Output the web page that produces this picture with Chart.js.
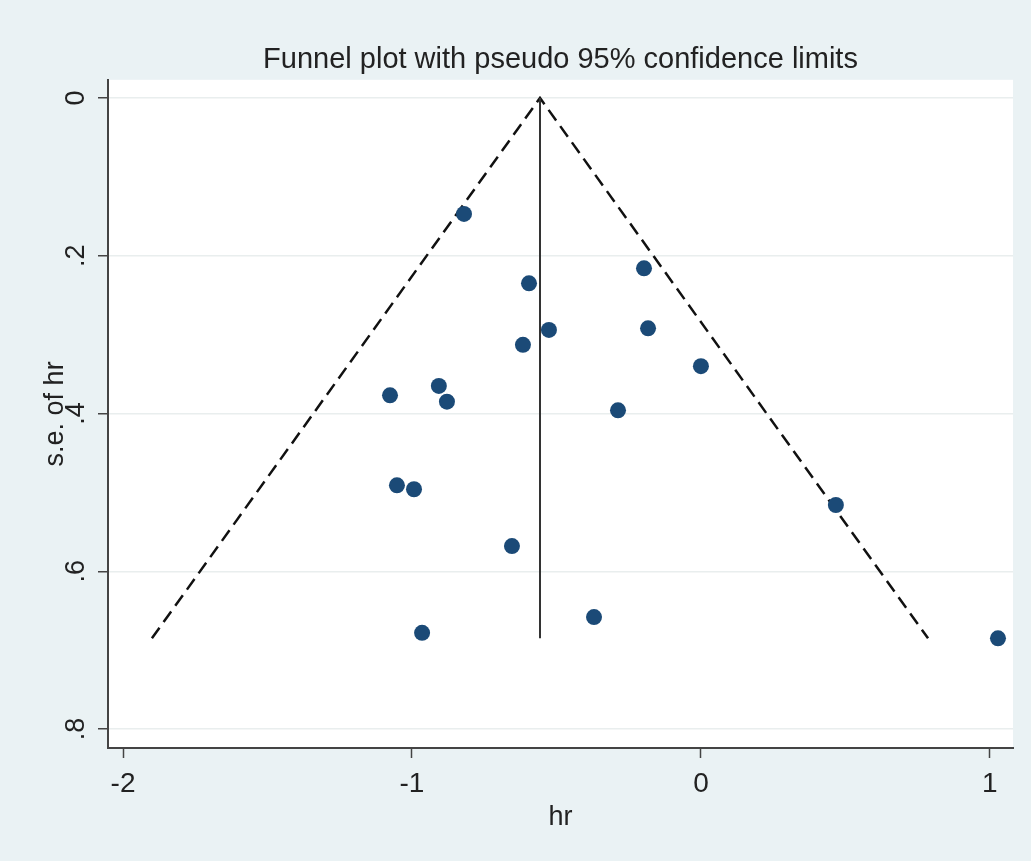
<!DOCTYPE html>
<html><head><meta charset="utf-8">
<script src="https://cdn.jsdelivr.net/npm/chart.js@4.4.1/dist/chart.umd.min.js"></script>
<style>html,body{margin:0;padding:0;background:#fff}#wrap{width:1031px;height:861px}</style>
</head><body><div id="wrap"><canvas id="c"></canvas></div>
<script>
// study estimates (log hr) and their standard errors
const hrVals=[-0.820,-0.595,-0.197,-0.526,-0.183,-0.616,0.000,-0.907,-1.076,-0.879,-0.287,-1.052,-0.993,0.467,-0.654,-0.370,-0.965,1.028];
const seVals=[0.147,0.235,0.216,0.294,0.292,0.313,0.340,0.365,0.377,0.385,0.396,0.491,0.496,0.516,0.568,0.658,0.678,0.685];
// funnel: pooled estimate line and pseudo 95% limits (end points)
const pooledLine=[[-0.557,0],[-0.557,0.685]];
const limitLines=[[-1.900,0.685],[-0.557,0],[0.786,0.685]];
const xTicks=[-2,-1,0,1];
const yTicks=[0,0.2,0.4,0.6,0.8];
const yTickLabels=['0','.2','.4','.6','.8'];

const FONT="'Liberation Sans', Arial, sans-serif";
const pts=hrVals.map((v,i)=>({x:v,y:seVals[i]}));
const toXY=a=>a.map(p=>({x:p[0],y:p[1]}));

const bgPlugin={id:'bg',beforeDraw(ch){
  let c=ch.ctx,a=ch.chartArea;
  c.save();c.fillStyle='#eaf2f4';c.fillRect(0,0,ch.width,ch.height);
  c.fillStyle='#fff';c.fillRect(a.left,a.top,a.right-a.left,a.bottom-a.top);c.restore();
}};
// stata style rotated y tick labels
const yLabPlugin={id:'ylab',afterDraw(ch){
  let c=ch.ctx,y=ch.scales.y;
  c.save();c.fillStyle='#222';c.font='27px '+FONT;c.textAlign='center';c.textBaseline='middle';
  yTicks.forEach((v,i)=>{c.save();c.translate(77,y.getPixelForValue(v));c.rotate(-Math.PI/2);c.fillText(yTickLabels[i],0,0);c.restore();});
  c.restore();
}};

new Chart(document.getElementById('c'),{
  type:'scatter',
  data:{datasets:[
    {data:pts,pointRadius:8,pointHoverRadius:8,backgroundColor:'#1b4a77',borderWidth:0,showLine:false},
    {data:toXY(pooledLine),showLine:true,borderColor:'#333',borderWidth:2,pointRadius:0},
    {data:toXY(limitLines),showLine:true,borderColor:'#111',borderWidth:2.5,borderDash:[13,7],pointRadius:0}
  ]},
  options:{
    responsive:true,maintainAspectRatio:false,animation:false,
    layout:{padding:{right:18}},
    plugins:{legend:{display:false},tooltip:{enabled:false},
      title:{display:true,fullSize:false,text:'Funnel plot with pseudo 95% confidence limits',color:'#222',
        font:{family:FONT,size:29,weight:'normal'},padding:{top:43,bottom:2}}},
    scales:{
      x:{type:'linear',min:-2.052,max:1.08,
        afterBuildTicks:s=>{s.ticks=xTicks.map(v=>({value:v}));},
        afterFit:s=>{s.height=113;},
        grid:{drawOnChartArea:false,tickColor:'#444',tickLength:10,tickWidth:1.5},
        border:{color:'#444',width:2},
        ticks:{color:'#222',font:{family:FONT,size:28},padding:9,maxRotation:0},
        title:{display:true,text:'hr',color:'#222',font:{family:FONT,size:27},padding:{top:0,bottom:27}}},
      y:{type:'linear',reverse:true,min:-0.023,max:0.824,
        afterBuildTicks:s=>{s.ticks=yTicks.map(v=>({value:v}));},
        afterFit:s=>{s.width=108;},
        grid:{color:'#e9eeee',lineWidth:1.5,tickColor:'#444',tickLength:10,tickWidth:1.5},
        border:{color:'#444',width:2},
        ticks:{display:false},
        title:{display:true,text:'s.e. of hr',color:'#222',font:{family:FONT,size:27},padding:{top:39,bottom:0}}}
    }
  },
  plugins:[bgPlugin,yLabPlugin]
});
</script></body></html>
